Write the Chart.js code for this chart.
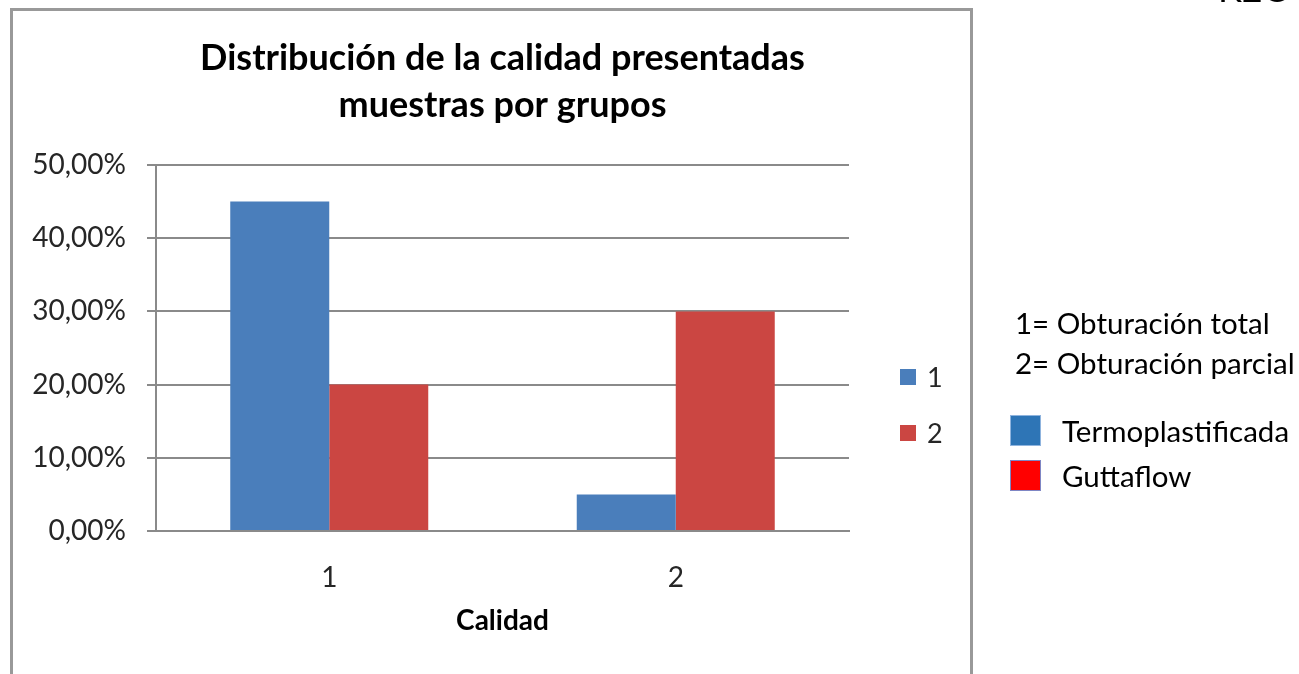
<!DOCTYPE html>
<html>
<head>
<meta charset="utf-8">
<script src="https://cdn.jsdelivr.net/npm/chart.js@4.4.1/dist/chart.umd.min.js"></script>
<style>
  html, body { margin:0; padding:0; background:#fff; width:1299px; height:674px; overflow:hidden; font-family: Lato, "Open Sans", sans-serif; }
  #frame { position:absolute; left:10px; top:8px; width:957px; height:720px; border:3px solid #999; border-bottom:none; }
  #wrap { position:absolute; left:0; top:0; width:1299px; height:674px; }
  .note { position:absolute; font-size:29.5px; line-height:1; color:#000; white-space:nowrap; }
  .sw { position:absolute; left:1010px; width:31px; height:31px; box-sizing:border-box; border:1px solid; }
  #corner { position:absolute; left:1218px; top:-30px; font-size:36px; line-height:1; color:#000; white-space:nowrap; }
</style>
</head>
<body>
<div id="frame"></div>
<div id="wrap"><canvas id="c" width="1299" height="674"></canvas></div>
<div id="corner">K2O</div>
<div class="note" style="left:1015px; top:308px;">1= Obturación total</div>
<div class="note" style="left:1015px; top:348px;">2= Obturación parcial</div>
<div class="sw" style="top:415px; background:#2E75B6; border-color:#8FB4DE;"></div>
<div class="note" style="left:1062px; top:416px;">Termoplastificada</div>
<div class="sw" style="top:460px; background:#FF0000; border-color:#7F86C4;"></div>
<div class="note" style="left:1062px; top:461px;">Guttaflow</div>
<script>
// ---- data ----
const categories = ['1', '2'];
const seriesLabels = ['1', '2'];
const serie1 = [45, 5];
const serie2 = [20, 30];
const titleLines = ['Distribución de la calidad presentadas', 'muestras por grupos'];
const xTitle = 'Calidad';
const yMin = 0, yMax = 50, yStep = 10;

const colors = ['#4A7EBB', '#CB4642'];

const sideLegend = {
  id: 'sideLegend',
  afterDraw(chart) {
    const ctx = chart.ctx;
    const x0 = chart.chartArea.right + 51;
    ctx.save();
    ctx.font = '27px Lato';
    ctx.textBaseline = 'middle';
    ctx.textAlign = 'left';
    chart.data.datasets.forEach((ds, i) => {
      const y = 377 + i * 56;
      ctx.fillStyle = ds.backgroundColor;
      ctx.fillRect(x0, y - 8, 16, 16);
      ctx.fillStyle = '#262626';
      ctx.fillText(ds.label, x0 + 27, y + 1);
    });
    ctx.restore();
  }
};

new Chart(document.getElementById('c'), {
  type: 'bar',
  data: {
    labels: categories,
    datasets: [
      { label: seriesLabels[0], data: serie1, backgroundColor: colors[0], borderWidth: 0, categoryPercentage: 2 / 3.5, barPercentage: 1 },
      { label: seriesLabels[1], data: serie2, backgroundColor: colors[1], borderWidth: 0, categoryPercentage: 2 / 3.5, barPercentage: 1 }
    ]
  },
  plugins: [sideLegend],
  options: {
    responsive: false,
    animation: false,
    devicePixelRatio: 1,
    layout: { padding: { left: 0, right: 450, top: 35, bottom: 0 } },
    plugins: {
      legend: { display: false },
      tooltip: { enabled: false },
      title: {
        display: true,
        fullSize: false,
        text: titleLines,
        color: '#000',
        font: { family: 'Lato', size: 36, weight: 'bold', lineHeight: 47 / 36 },
        padding: { top: 0, bottom: 36 }
      }
    },
    scales: {
      x: {
        grid: { display: false, drawTicks: false },
        border: { display: true, color: '#8a8a8a', width: 2 },
        ticks: { color: '#262626', font: { family: 'Lato', size: 28 }, padding: 30 },
        title: { display: true, text: xTitle, color: '#000', font: { family: 'Lato', size: 28, weight: 'bold' }, padding: { top: 0, bottom: 36 } },
        afterFit(s) { s.height = 143; }
      },
      y: {
        min: yMin, max: yMax,
        ticks: {
          stepSize: yStep,
          color: '#262626',
          font: { family: 'Lato', size: 28 },
          padding: 21,
          callback: v => v.toFixed(2).replace('.', ',') + '%'
        },
        grid: { color: '#8a8a8a', lineWidth: 2, tickLength: 9, drawTicks: true },
        border: { display: true, color: '#8a8a8a', width: 2 },
        afterFit(s) { s.width = 156; }
      }
    }
  }
});
</script>
</body>
</html>
